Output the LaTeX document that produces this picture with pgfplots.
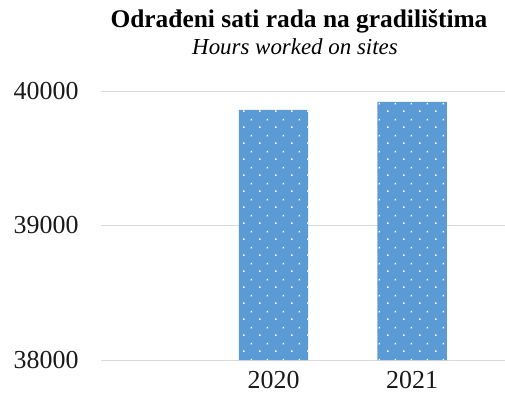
\documentclass[border=0pt]{standalone}
\usepackage{pgfplots}
\pgfplotsset{compat=1.18}
\usepackage{fontspec}
\setmainfont{Liberation Serif}
\usetikzlibrary{patterns}
\definecolor{barblue}{HTML}{5B9BD5}
\definecolor{gridgray}{HTML}{D9D9D9}
\pgfdeclarepatternformonly{sparsedots}{\pgfpointorigin}{\pgfqpoint{16bp}{16bp}}{\pgfqpoint{16bp}{16bp}}{%
  \pgfpathrectangle{\pgfqpoint{3.2bp}{3.2bp}}{\pgfqpoint{1.6bp}{1.6bp}}%
  \pgfpathrectangle{\pgfqpoint{11.2bp}{11.2bp}}{\pgfqpoint{1.6bp}{1.6bp}}%
  \pgfusepath{fill}%
}
\begin{document}
\begin{tikzpicture}
\path[use as bounding box] (0,0) rectangle (505bp,403bp);
\begin{axis}[
  at={(101bp,43bp)}, anchor=south west,
  scale only axis, width=404bp, height=269bp,
  xmin=-0.245, xmax=2.67,
  ymin=38000, ymax=40000,
  ytick={38000,39000,40000},
  xtick={1,2}, xticklabels={2020,2021},
  ymajorgrids, grid style={gridgray, line width=0.9bp},
  axis line style={draw=none},
  major tick length=0pt,
  scaled y ticks=false,
  /pgf/number format/assume math mode=true,
  /pgf/number format/set thousands separator={},
  yticklabel style={font=\fontsize{26}{28}\selectfont, xshift=-19bp, text=black!90},
  xticklabel style={font=\fontsize{26}{28}\selectfont, yshift=-8bp, text=black!90},
  bar width=0.5,
  clip=false,
]
\addplot[ybar, draw=none, fill=barblue, postaction={pattern=sparsedots, pattern color=white}]
  coordinates {(1,39860) (2,39920)};
\end{axis}
\node[anchor=base, font=\fontsize{25.5}{28}\selectfont\bfseries] at (299bp,375bp) {Odrađeni sati rada na gradilištima};
\node[anchor=base, font=\fontsize{23}{28}\selectfont\itshape] at (295bp,348bp) {Hours worked on sites};
\end{tikzpicture}
\end{document}
